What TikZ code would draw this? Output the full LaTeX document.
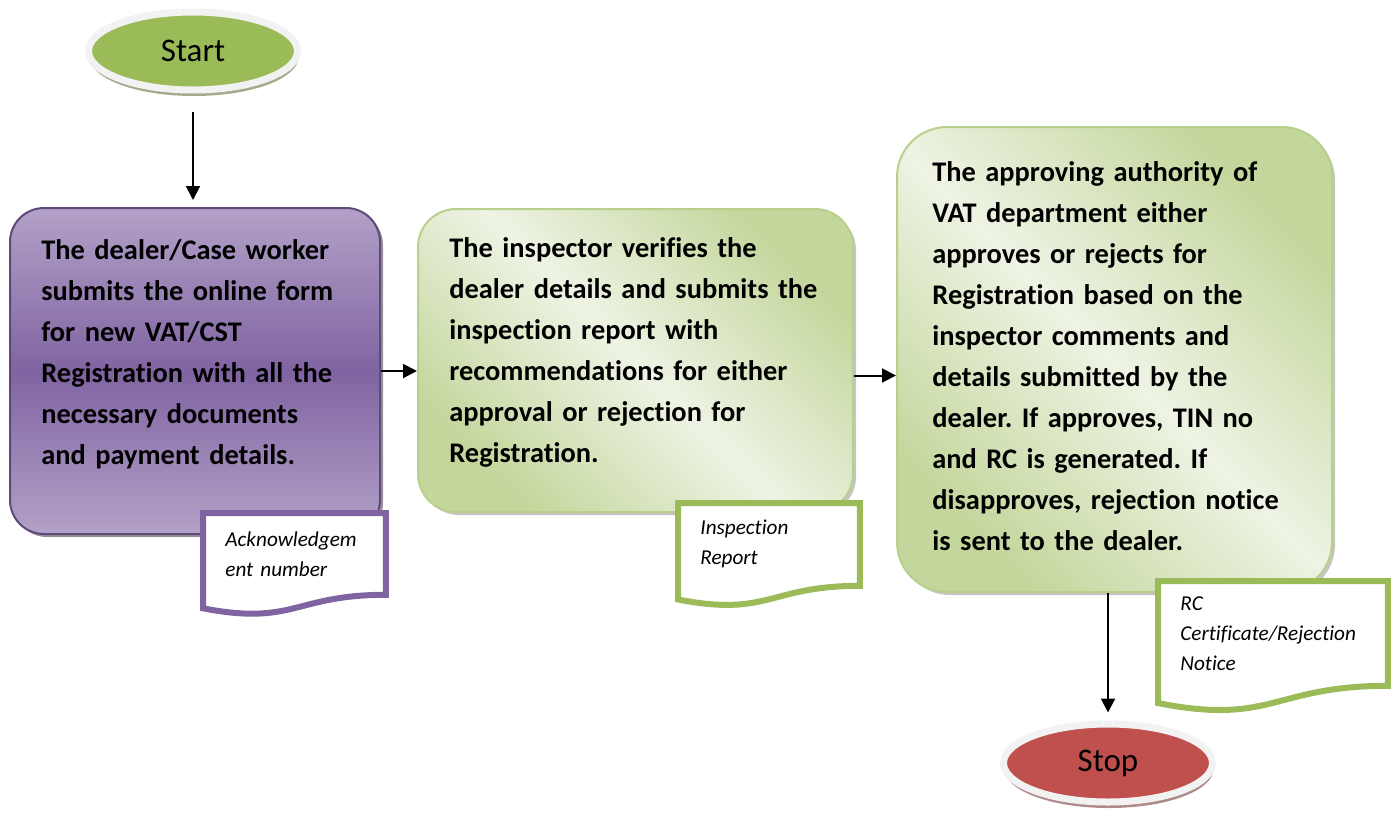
\documentclass[tikz,border=0pt]{standalone}
\usepackage{fontspec}
\setmainfont{Carlito}[Ligatures=NoCommon]
\usepackage{tikz}
\usetikzlibrary{shapes.geometric}
\usetikzlibrary{shadows}
\usetikzlibrary{calc}
\usetikzlibrary{arrows.meta}
\frenchspacing

\definecolor{vgreen}{HTML}{9BBB59}
\definecolor{vgreenlt}{HTML}{EEF3E4}
\definecolor{vgreendk}{HTML}{C3D69B}
\definecolor{vgreenln}{HTML}{B9CF8C}
\definecolor{vpurple}{HTML}{8064A2}
\definecolor{vpurplelt}{HTML}{B2A1C7}
\definecolor{vpurpledk}{HTML}{5F497A}
\definecolor{vred}{HTML}{C0504D}
\definecolor{vring}{HTML}{F2F2F2}

% outline of a document symbol round a node
\newcommand\docoutline[2]{%
  \draw[line width=3pt,#2] (#1.north west) -- (#1.north east) -- (#1.south east)
    .. controls (#1.south) and ($(#1.north)!1.38!(#1.south)$)
    .. ($(#1.north west)!1.165!(#1.south west)$) -- cycle;}

\begin{document}
\begin{tikzpicture}[x=0.5pt,y=-0.5pt,
    terminal/.style={ellipse, draw=vring, line width=3.5pt,
      minimum width=104.5pt, minimum height=39pt,
      font=\fontsize{16.5}{20}\selectfont},
    stepbox/.style={rectangle, line width=1pt},
    greenbox/.style={stepbox, draw=vgreenln, top color=vgreendk,
      bottom color=vgreendk, middle color=vgreenlt, shading angle=-45,
      drop shadow={shadow xshift=1.5pt, shadow yshift=-1.5pt, fill=black!45, opacity=.5}},
    steptext/.style={anchor=base west, inner sep=0pt, text width=195pt, align=left,
      font=\bfseries\fontsize{14.2}{20.5}\selectfont},
    docbox/.style={anchor=north west, fill=white, inner xsep=11pt, inner ysep=0pt,
      align=left, font=\itshape\fontsize{10.6}{15}\selectfont},
    arr/.style={line width=1pt, -{Triangle[length=7pt,width=7pt]}}]
  \useasboundingbox (0,0) rectangle (1391,815);

  \node[terminal, fill=vgreen,
    drop shadow={shadow xshift=0.5pt, shadow yshift=-3pt, fill=vgreen!40!gray, opacity=.8}]
    (start) at (193,51) {Start};

  % the three steps
  \node[stepbox, minimum width=185pt, minimum height=163pt, rounded corners=17pt,
    draw=vpurpledk, top color=vpurplelt, bottom color=vpurplelt, middle color=vpurple,
    drop shadow={shadow xshift=1.5pt, shadow yshift=-1.5pt, fill=black!70, opacity=.6}]
    (dealer) at (195,371) {};
  \node[steptext] (dealertxt) at ([xshift=16pt,yshift=-26pt]dealer.north west)
    {The dealer/Case worker\\submits the online form\\for new VAT/CST\\Registration with all the\\necessary documents\\and payment details.};

  \node[greenbox, minimum width=217.5pt, minimum height=151.5pt, rounded corners=19pt]
    (insp) at (635.5,360.5) {};
  \node[steptext] (insptxt) at ([xshift=16pt,yshift=-24.5pt]insp.north west)
    {The inspector verifies the\\dealer details and submits the\\inspection report with\\recommendations for either\\approval or rejection for\\Registration.};

  \node[greenbox, minimum width=217.5pt, minimum height=232.5pt, rounded corners=25pt]
    (appr) at (1114.5,359.5) {};
  \node[steptext] (apprtxt) at ([xshift=18pt,yshift=-27.5pt]appr.north west)
    {The approving authority of\\VAT department either\\approves or rejects for\\Registration based on the\\inspector comments and\\details submitted by the\\dealer. If approves, TIN no\\and RC is generated. If\\disapproves, rejection notice\\is sent to the dealer.};

  % documents
  \node[docbox, minimum width=91pt, minimum height=40.5pt, text width=69pt]
    (ack) at (203,513) {Acknowledgem\\ent number};
  \docoutline{ack}{vpurple}
  \node[docbox, minimum width=90.5pt, minimum height=41pt, text width=68.5pt]
    (rep) at (678,503) {Inspection\\Report};
  \docoutline{rep}{vgreen}
  \node[docbox, minimum width=114.5pt, minimum height=52pt, text width=92.5pt]
    (cert) at (1158,581) {RC\\Certificate/Rejection\\Notice};
  \docoutline{cert}{vgreen}

  \node[terminal, fill=vred,
    drop shadow={shadow xshift=0.5pt, shadow yshift=-3pt, fill=vred!40!gray, opacity=.8}]
    (stop) at (1108,763) {Stop};

  \draw[arr, shorten <=9pt, shorten >=3.5pt] (start.south) -- (start.south |- dealer.north);
  \draw[arr] (dealer.east) -- (dealer.east -| insp.west);
  \draw[arr] ([yshift=-7.5pt]insp.east) -- ([yshift=-7.5pt]insp.east -| appr.west);
  \draw[arr, shorten >=4pt] (stop.north |- appr.south) -- (stop.north);
\end{tikzpicture}
\end{document}
